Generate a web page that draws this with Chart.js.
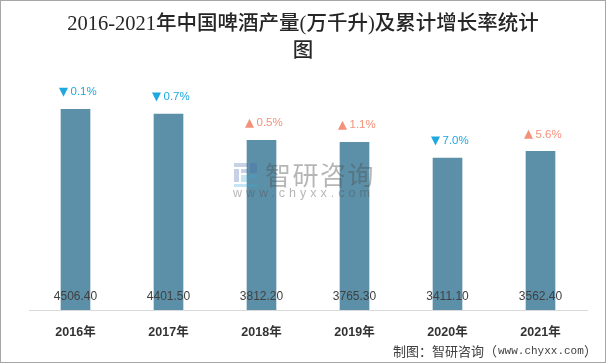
<!DOCTYPE html>
<html>
<head>
<meta charset="utf-8">
<style>
  html, body { margin: 0; padding: 0; background: #fff; }
  canvas { display: block; }
</style>
<script src="https://cdn.jsdelivr.net/npm/chart.js@4/dist/chart.umd.min.js"></script>
</head>
<body>
<canvas id="beer-chart" width="606" height="363"></canvas>
<script>
const years = ["2016年", "2017年", "2018年", "2019年", "2020年", "2021年"];
const output = [4506.40, 4401.50, 3812.20, 3765.30, 3411.10, 3562.40];
const growth = [-0.1, -0.7, 0.5, 1.1, -7.0, 5.6];
const titleLines = ["2016-2021年中国啤酒产量(万千升)及累计增长率统计", "图"];

const SANS = '"Liberation Sans", "Noto Sans CJK SC", sans-serif';

// value labels at the foot of each bar, growth labels above it
const barLabels = {
  id: "barLabels",
  afterDatasetsDraw(chart) {
    const { ctx, scales } = chart;
    ctx.save();
    ctx.textBaseline = "middle";
    output.forEach((v, i) => {
      const x = scales.x.getPixelForValue(i);
      const top = scales.y.getPixelForValue(v);
      ctx.textAlign = "center";
      ctx.fillStyle = "#404040";
      ctx.font = "12px " + SANS;
      ctx.fillText(v.toFixed(2), x, 297);

      const up = growth[i] > 0;
      const my = top - 17;
      ctx.fillStyle = up ? "#f4917a" : "#1fa8e0";
      ctx.beginPath();
      if (up) {
        ctx.moveTo(x - 16.5, my + 4.5);
        ctx.lineTo(x - 7.5, my + 4.5);
        ctx.lineTo(x - 12, my - 4.5);
      } else {
        ctx.moveTo(x - 16.5, my - 4.5);
        ctx.lineTo(x - 7.5, my - 4.5);
        ctx.lineTo(x - 12, my + 4.5);
      }
      ctx.closePath();
      ctx.fill();
      ctx.textAlign = "left";
      ctx.font = "11.5px " + SANS;
      ctx.fillText(Math.abs(growth[i]).toFixed(1) + "%", x - 5, my);
    });
    ctx.restore();
  }
};

// watermark logo and text, sits on top of the bars
const watermark = {
  id: "watermark",
  afterDatasetsDraw(chart) {
    const { ctx } = chart;
    ctx.save();
    ctx.fillStyle = "rgba(70,100,170,0.3)";
    ctx.fillRect(234, 163, 14, 4);
    ctx.fillRect(234, 169, 5, 13);
    ctx.fillRect(241, 169, 7, 4);
    ctx.fillRect(250, 163, 7, 10);
    ctx.fillStyle = "rgba(60,170,220,0.3)";
    ctx.fillRect(241, 175, 6, 7);
    ctx.fillRect(249, 175, 8, 3);
    ctx.fillRect(234, 184, 23, 3);
    ctx.fillStyle = "rgba(80,80,80,0.42)";
    ctx.textBaseline = "middle";
    ctx.textAlign = "left";
    ctx.font = '26px "Noto Sans CJK SC", sans-serif';
    ctx.letterSpacing = "1.5px";
    ctx.fillText("智研咨询", 265, 175);
    ctx.font = '12.5px "Liberation Sans", sans-serif';
    ctx.letterSpacing = "4px";
    ctx.fillText("www.chyxx.com", 233, 194);
    ctx.restore();
  }
};

// outer frame and source line
const frame = {
  id: "frame",
  afterDraw(chart) {
    const { ctx } = chart;
    ctx.save();
    ctx.strokeStyle = "#a6a6a6";
    ctx.lineWidth = 1;
    ctx.strokeRect(0.5, 0.5, 605, 362);
    ctx.fillStyle = "#404040";
    ctx.textAlign = "left";
    ctx.textBaseline = "middle";
    ctx.font = '13px "Noto Sans CJK SC", sans-serif';
    ctx.fillText("制图\uFF1A智研咨询\uFF08", 393, 351);
    ctx.fillText("\uFF09", 584, 351);
    ctx.font = '11px "Liberation Mono", monospace';
    ctx.fillText("www.chyxx.com", 498, 351);
    ctx.restore();
  }
};

new Chart(document.getElementById("beer-chart").getContext("2d"), {
  type: "bar",
  data: {
    labels: years,
    datasets: [{
      data: output,
      backgroundColor: "#5b90a8",
      barThickness: 29
    }]
  },
  options: {
    responsive: false,
    animation: false,
    layout: { padding: { left: 19, right: 19, top: 0, bottom: 8 } },
    plugins: {
      legend: { display: false },
      tooltip: { enabled: false },
      title: {
        display: true,
        text: titleLines,
        color: "#262626",
        font: { family: '"Liberation Serif", "Noto Sans CJK SC", serif', size: 20.5, weight: "500", lineHeight: 1.32 },
        padding: { top: 11.5, bottom: 21.7 }
      }
    },
    scales: {
      x: {
        grid: { display: false, drawTicks: false },
        border: { color: "#d9d9d9", width: 1 },
        ticks: {
          color: "#333333",
          padding: 15,
          maxRotation: 0,
          font: { family: SANS, size: 12.5, weight: "bold" }
        }
      },
      y: {
        min: 0,
        max: 5000,
        grid: { display: false },
        border: { display: false },
        ticks: { display: false },
        // keeps the title centred on the page while the bars start at x=29
        afterFit(scale) { scale.width = 10; }
      }
    }
  },
  plugins: [barLabels, watermark, frame]
});
</script>
</body>
</html>
